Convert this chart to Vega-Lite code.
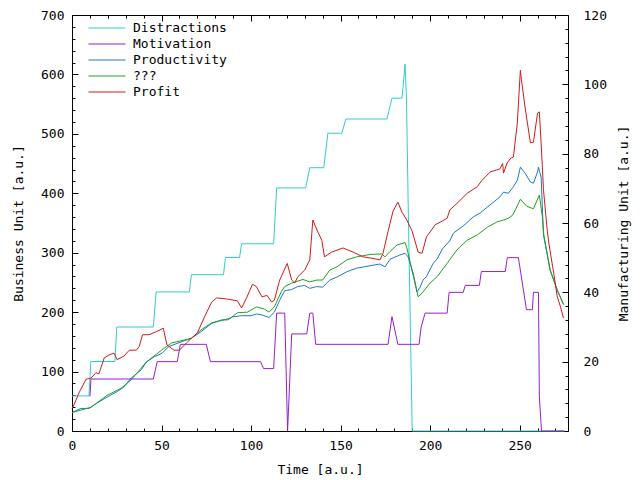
{
"$schema":"https://vega.github.io/schema/vega-lite/v6.json",
"width":496,"height":416,
"autosize":{"type":"none"},
"padding":{"left":72,"top":15,"right":72,"bottom":49},
"background":"white",
"config":{
 "view":{"stroke":null},
 "font":"DejaVu Sans Mono",
 "axis":{"labelFont":"DejaVu Sans Mono","labelFontSize":13,"titleFont":"DejaVu Sans Mono","titleFontSize":13,"titleFontWeight":"normal","labelColor":"black","titleColor":"black","domainColor":"black","tickColor":"black","tickWidth":1,"grid":false,"labelFlush":false,"labelOverlap":false,"zindex":1},
 "legend":{"labelFont":"DejaVu Sans Mono","labelFontSize":13,"labelColor":"black"}
},
"data":{"values":[
{"s":"Distractions","t":0,"v":59},{"s":"Distractions","t":9.5,"v":59},{"s":"Distractions","t":10.5,"v":117},{"s":"Distractions","t":24,"v":117},{"s":"Distractions","t":25,"v":175},{"s":"Distractions","t":45.4,"v":175},{"s":"Distractions","t":47,"v":234},{"s":"Distractions","t":65.5,"v":234},{"s":"Distractions","t":66.7,"v":263},{"s":"Distractions","t":84.6,"v":263},{"s":"Distractions","t":85.7,"v":292},{"s":"Distractions","t":93.6,"v":292},{"s":"Distractions","t":94.7,"v":315},{"s":"Distractions","t":112.6,"v":315},{"s":"Distractions","t":114.3,"v":409},{"s":"Distractions","t":130.5,"v":409},{"s":"Distractions","t":132.8,"v":443},{"s":"Distractions","t":140.6,"v":443},{"s":"Distractions","t":142.9,"v":501},{"s":"Distractions","t":150.7,"v":501},{"s":"Distractions","t":152.9,"v":525},{"s":"Distractions","t":175.9,"v":525},{"s":"Distractions","t":178.7,"v":560},{"s":"Distractions","t":184.3,"v":560},{"s":"Distractions","t":186,"v":617},{"s":"Distractions","t":186.8,"v":560},{"s":"Distractions","t":187.7,"v":389},{"s":"Distractions","t":190,"v":0},{"s":"Distractions","t":275,"v":0},
{"s":"Productivity","t":0,"v":31},{"s":"Productivity","t":4.9,"v":38},{"s":"Productivity","t":9.5,"v":38},{"s":"Productivity","t":14,"v":47},{"s":"Productivity","t":19.6,"v":57},{"s":"Productivity","t":25,"v":66},{"s":"Productivity","t":29,"v":74},{"s":"Productivity","t":33,"v":89},{"s":"Productivity","t":38.7,"v":103},{"s":"Productivity","t":41.5,"v":116},{"s":"Productivity","t":46,"v":125},{"s":"Productivity","t":50.4,"v":131},{"s":"Productivity","t":54,"v":142},{"s":"Productivity","t":61,"v":150},{"s":"Productivity","t":66.7,"v":156},{"s":"Productivity","t":72,"v":167},{"s":"Productivity","t":78,"v":181},{"s":"Productivity","t":83.5,"v":187},{"s":"Productivity","t":87,"v":187},{"s":"Productivity","t":89.6,"v":192},{"s":"Productivity","t":94.7,"v":194},{"s":"Productivity","t":100,"v":194},{"s":"Productivity","t":103,"v":197},{"s":"Productivity","t":106.4,"v":195},{"s":"Productivity","t":110,"v":191},{"s":"Productivity","t":113,"v":200},{"s":"Productivity","t":116,"v":220},{"s":"Productivity","t":118.8,"v":236},{"s":"Productivity","t":122.7,"v":238},{"s":"Productivity","t":126,"v":243},{"s":"Productivity","t":130,"v":245},{"s":"Productivity","t":132.8,"v":240},{"s":"Productivity","t":136.7,"v":243},{"s":"Productivity","t":140,"v":242},{"s":"Productivity","t":144,"v":254},{"s":"Productivity","t":147.9,"v":259},{"s":"Productivity","t":153.5,"v":268},{"s":"Productivity","t":159,"v":274},{"s":"Productivity","t":166.4,"v":278},{"s":"Productivity","t":172,"v":281},{"s":"Productivity","t":174.8,"v":276},{"s":"Productivity","t":177.6,"v":289},{"s":"Productivity","t":183,"v":296},{"s":"Productivity","t":186,"v":299},{"s":"Productivity","t":187.7,"v":293},{"s":"Productivity","t":190.5,"v":266},{"s":"Productivity","t":192.7,"v":234},{"s":"Productivity","t":194.4,"v":242},{"s":"Productivity","t":196,"v":254},{"s":"Productivity","t":198,"v":260},{"s":"Productivity","t":201.7,"v":282},{"s":"Productivity","t":204,"v":290},{"s":"Productivity","t":207,"v":307},{"s":"Productivity","t":211,"v":320},{"s":"Productivity","t":213,"v":333},{"s":"Productivity","t":218.5,"v":345},{"s":"Productivity","t":224,"v":360},{"s":"Productivity","t":228,"v":367},{"s":"Productivity","t":232,"v":377},{"s":"Productivity","t":235,"v":384},{"s":"Productivity","t":239,"v":394},{"s":"Productivity","t":241,"v":402},{"s":"Productivity","t":243.7,"v":400},{"s":"Productivity","t":246.5,"v":411},{"s":"Productivity","t":248.7,"v":422},{"s":"Productivity","t":250.4,"v":444},{"s":"Productivity","t":253,"v":434},{"s":"Productivity","t":256,"v":419},{"s":"Productivity","t":257.7,"v":417},{"s":"Productivity","t":260,"v":436},{"s":"Productivity","t":260.5,"v":444},{"s":"Productivity","t":262,"v":427},{"s":"Productivity","t":263.3,"v":330},{"s":"Productivity","t":267,"v":271},{"s":"Productivity","t":271,"v":237},{"s":"Productivity","t":274.5,"v":213},
{"s":"???","t":0,"v":31},{"s":"???","t":10.6,"v":40},{"s":"???","t":19.6,"v":60},{"s":"???","t":27.5,"v":72},{"s":"???","t":33,"v":86},{"s":"???","t":41.5,"v":116},{"s":"???","t":50,"v":136},{"s":"???","t":55.5,"v":148},{"s":"???","t":62.7,"v":153},{"s":"???","t":66.7,"v":156},{"s":"???","t":72,"v":170},{"s":"???","t":78,"v":182},{"s":"???","t":85,"v":187},{"s":"???","t":88.5,"v":190},{"s":"???","t":92.4,"v":199},{"s":"???","t":98,"v":200},{"s":"???","t":103,"v":209},{"s":"???","t":107.6,"v":205},{"s":"???","t":110,"v":200},{"s":"???","t":113,"v":209},{"s":"???","t":117,"v":235},{"s":"???","t":118.8,"v":243},{"s":"???","t":122.7,"v":249},{"s":"???","t":129,"v":255},{"s":"???","t":132.8,"v":251},{"s":"???","t":136.7,"v":254},{"s":"???","t":140,"v":254},{"s":"???","t":144,"v":271},{"s":"???","t":147.9,"v":276},{"s":"???","t":153.5,"v":288},{"s":"???","t":159,"v":293},{"s":"???","t":166.4,"v":297},{"s":"???","t":173,"v":298},{"s":"???","t":174.8,"v":293},{"s":"???","t":177.6,"v":302},{"s":"???","t":181.5,"v":313},{"s":"???","t":186,"v":317},{"s":"???","t":187,"v":308},{"s":"???","t":190.5,"v":262},{"s":"???","t":193.3,"v":226},{"s":"???","t":195.5,"v":232},{"s":"???","t":200,"v":249},{"s":"???","t":204,"v":260},{"s":"???","t":209.5,"v":282},{"s":"???","t":215,"v":305},{"s":"???","t":220.7,"v":321},{"s":"???","t":226.3,"v":330},{"s":"???","t":232,"v":343},{"s":"???","t":237.5,"v":352},{"s":"???","t":241,"v":355},{"s":"???","t":243.7,"v":358},{"s":"???","t":246,"v":363},{"s":"???","t":247.6,"v":372},{"s":"???","t":250.4,"v":390},{"s":"???","t":254,"v":378},{"s":"???","t":257.7,"v":374},{"s":"???","t":260,"v":390},{"s":"???","t":261,"v":397},{"s":"???","t":262.7,"v":360},{"s":"???","t":263.5,"v":330},{"s":"???","t":267,"v":271},{"s":"???","t":271,"v":237},{"s":"???","t":274.5,"v":213},
{"s":"Profit","t":0,"v":38},{"s":"Profit","t":1.1,"v":44},{"s":"Profit","t":3.9,"v":64},{"s":"Profit","t":7.8,"v":87},{"s":"Profit","t":10.6,"v":89},{"s":"Profit","t":13.4,"v":98},{"s":"Profit","t":15,"v":96},{"s":"Profit","t":18,"v":123},{"s":"Profit","t":20.7,"v":128},{"s":"Profit","t":23.5,"v":131},{"s":"Profit","t":25.2,"v":120},{"s":"Profit","t":29,"v":126},{"s":"Profit","t":32,"v":136},{"s":"Profit","t":35.9,"v":136},{"s":"Profit","t":37.5,"v":142},{"s":"Profit","t":39.4,"v":162},{"s":"Profit","t":43,"v":162},{"s":"Profit","t":47,"v":167},{"s":"Profit","t":51,"v":173},{"s":"Profit","t":53,"v":145},{"s":"Profit","t":57,"v":136},{"s":"Profit","t":60,"v":136},{"s":"Profit","t":63.9,"v":148},{"s":"Profit","t":66.7,"v":156},{"s":"Profit","t":70,"v":165},{"s":"Profit","t":74,"v":192},{"s":"Profit","t":78,"v":217},{"s":"Profit","t":80.7,"v":224},{"s":"Profit","t":86.8,"v":222},{"s":"Profit","t":92.4,"v":219},{"s":"Profit","t":94.7,"v":207},{"s":"Profit","t":97.5,"v":224},{"s":"Profit","t":100.8,"v":247},{"s":"Profit","t":103,"v":243},{"s":"Profit","t":106,"v":226},{"s":"Profit","t":109,"v":228},{"s":"Profit","t":111.5,"v":217},{"s":"Profit","t":113,"v":220},{"s":"Profit","t":116,"v":254},{"s":"Profit","t":120.2,"v":282},{"s":"Profit","t":122.7,"v":254},{"s":"Profit","t":124.4,"v":249},{"s":"Profit","t":126,"v":259},{"s":"Profit","t":130,"v":271},{"s":"Profit","t":132.8,"v":288},{"s":"Profit","t":134.5,"v":355},{"s":"Profit","t":137.3,"v":335},{"s":"Profit","t":139.5,"v":321},{"s":"Profit","t":141,"v":293},{"s":"Profit","t":145,"v":301},{"s":"Profit","t":151.3,"v":308},{"s":"Profit","t":157,"v":301},{"s":"Profit","t":162.5,"v":293},{"s":"Profit","t":167,"v":291},{"s":"Profit","t":172,"v":288},{"s":"Profit","t":173.7,"v":299},{"s":"Profit","t":176.5,"v":336},{"s":"Profit","t":179.3,"v":370},{"s":"Profit","t":182,"v":385},{"s":"Profit","t":184.3,"v":368},{"s":"Profit","t":187,"v":355},{"s":"Profit","t":190,"v":336},{"s":"Profit","t":193.3,"v":301},{"s":"Profit","t":195.5,"v":299},{"s":"Profit","t":198,"v":327},{"s":"Profit","t":200,"v":335},{"s":"Profit","t":202.8,"v":347},{"s":"Profit","t":206.7,"v":353},{"s":"Profit","t":209.5,"v":358},{"s":"Profit","t":211,"v":372},{"s":"Profit","t":215,"v":383},{"s":"Profit","t":220.7,"v":400},{"s":"Profit","t":226.3,"v":411},{"s":"Profit","t":229,"v":422},{"s":"Profit","t":233.6,"v":436},{"s":"Profit","t":239,"v":441},{"s":"Profit","t":240.5,"v":450},{"s":"Profit","t":241,"v":434},{"s":"Profit","t":243,"v":451},{"s":"Profit","t":245,"v":459},{"s":"Profit","t":246.5,"v":461},{"s":"Profit","t":248.7,"v":518},{"s":"Profit","t":250.4,"v":607},{"s":"Profit","t":251,"v":591},{"s":"Profit","t":253,"v":545},{"s":"Profit","t":256,"v":485},{"s":"Profit","t":257.7,"v":486},{"s":"Profit","t":260,"v":535},{"s":"Profit","t":261,"v":537},{"s":"Profit","t":262.2,"v":473},{"s":"Profit","t":263.3,"v":406},{"s":"Profit","t":265.4,"v":338},{"s":"Profit","t":266.3,"v":316},{"s":"Profit","t":269,"v":266},{"s":"Profit","t":271,"v":226},{"s":"Profit","t":272.8,"v":209},{"s":"Profit","t":274.5,"v":190},
{"s":"Motivation","t":10,"v":10},{"s":"Motivation","t":10.6,"v":15},{"s":"Motivation","t":45.4,"v":15},{"s":"Motivation","t":47.6,"v":20},{"s":"Motivation","t":58.8,"v":20},{"s":"Motivation","t":60.5,"v":25},{"s":"Motivation","t":75,"v":25},{"s":"Motivation","t":77.3,"v":20},{"s":"Motivation","t":105.3,"v":20},{"s":"Motivation","t":107,"v":18},{"s":"Motivation","t":112.6,"v":18},{"s":"Motivation","t":114.3,"v":34},{"s":"Motivation","t":118.8,"v":34},{"s":"Motivation","t":120.4,"v":0},{"s":"Motivation","t":122.7,"v":28},{"s":"Motivation","t":131.1,"v":28},{"s":"Motivation","t":132.8,"v":34},{"s":"Motivation","t":134.5,"v":34},{"s":"Motivation","t":136.1,"v":25},{"s":"Motivation","t":176.5,"v":25},{"s":"Motivation","t":178.7,"v":33},{"s":"Motivation","t":182,"v":25},{"s":"Motivation","t":193.8,"v":25},{"s":"Motivation","t":195,"v":30},{"s":"Motivation","t":197.2,"v":34},{"s":"Motivation","t":209.5,"v":34},{"s":"Motivation","t":210.6,"v":40},{"s":"Motivation","t":218.5,"v":40},{"s":"Motivation","t":219.6,"v":42},{"s":"Motivation","t":227.5,"v":42},{"s":"Motivation","t":228.6,"v":46},{"s":"Motivation","t":242,"v":46},{"s":"Motivation","t":243.1,"v":50},{"s":"Motivation","t":249.3,"v":50},{"s":"Motivation","t":253.8,"v":35},{"s":"Motivation","t":257.1,"v":35},{"s":"Motivation","t":257.7,"v":40},{"s":"Motivation","t":260.5,"v":40},{"s":"Motivation","t":261,"v":10},{"s":"Motivation","t":262.2,"v":0},{"s":"Motivation","t":275,"v":0}
]},
"layer":[
 {
  "transform":[{"filter":"datum.s !== 'Motivation'"}],
  "mark":{"type":"line","strokeWidth":1},
  "encoding":{
   "x":{"field":"t","type":"quantitative","scale":{"domain":[0,277],"nice":false,"zero":false},
    "axis":{"orient":"bottom","title":"Time [a.u.]","values":[0,10,20,30,40,50,60,70,80,90,100,110,120,130,140,150,160,170,180,190,200,210,220,230,240,250,260,270],
     "labelExpr":"datum.value % 50 === 0 ? datum.label : ''",
     "tickSize":{"condition":{"test":"datum.value % 50 === 0","value":-6},"value":-3},
     "labelPadding":14,"titlePadding":8}},
   "y":{"field":"v","type":"quantitative","scale":{"domain":[0,700],"nice":false},
    "axis":{"orient":"left","title":"Business Unit [a.u.]","values":[0,20,40,60,80,100,120,140,160,180,200,220,240,260,280,300,320,340,360,380,400,420,440,460,480,500,520,540,560,580,600,620,640,660,680,700],
     "labelExpr":"datum.value % 100 === 0 ? datum.label : ''",
     "tickSize":{"condition":{"test":"datum.value % 100 === 0","value":-6},"value":-3},
     "labelPadding":14,"titlePadding":15}},
   "color":{"field":"s","type":"nominal","sort":null,
    "scale":{"domain":["Distractions","Motivation","Productivity","???","Profit"],"range":["#33cccc","#9a1fcc","#1f78c8","#21a021","#d41a1a"]},
    "legend":{"orient":"none","legendX":16,"legendY":5,"title":null,"symbolType":"stroke","symbolSize":1369,"symbolStrokeWidth":1,"clipHeight":16,"rowPadding":0,"labelOffset":7,"padding":0}}
  }
 },
 {
  "transform":[{"filter":"datum.s === 'Motivation'"}],
  "mark":{"type":"line","strokeWidth":1},
  "encoding":{
   "x":{"field":"t","type":"quantitative","scale":{"domain":[0,277],"nice":false,"zero":false},
    "axis":{"orient":"top","title":null,"labels":false,"values":[0,10,20,30,40,50,60,70,80,90,100,110,120,130,140,150,160,170,180,190,200,210,220,230,240,250,260,270],
     "tickSize":{"condition":{"test":"datum.value % 50 === 0","value":-6},"value":-3}}},
   "y":{"field":"v","type":"quantitative","scale":{"domain":[0,120],"nice":false},
    "axis":{"orient":"right","title":"Manufacturing Unit [a.u.]","titleAngle":270,"values":[0,4,8,12,16,20,24,28,32,36,40,44,48,52,56,60,64,68,72,76,80,84,88,92,96,100,104,108,112,116,120],
     "labelExpr":"datum.value % 20 === 0 ? datum.label : ''",
     "tickSize":{"condition":{"test":"datum.value % 20 === 0","value":-6},"value":-3},
     "labelPadding":21,"titlePadding":24}},
   "color":{"field":"s","type":"nominal","sort":null,
    "scale":{"domain":["Distractions","Motivation","Productivity","???","Profit"],"range":["#33cccc","#9a1fcc","#1f78c8","#21a021","#d41a1a"]},
    "legend":null}
  }
 }
],
"resolve":{"scale":{"y":"independent"},"axis":{"x":"independent"}}
}
